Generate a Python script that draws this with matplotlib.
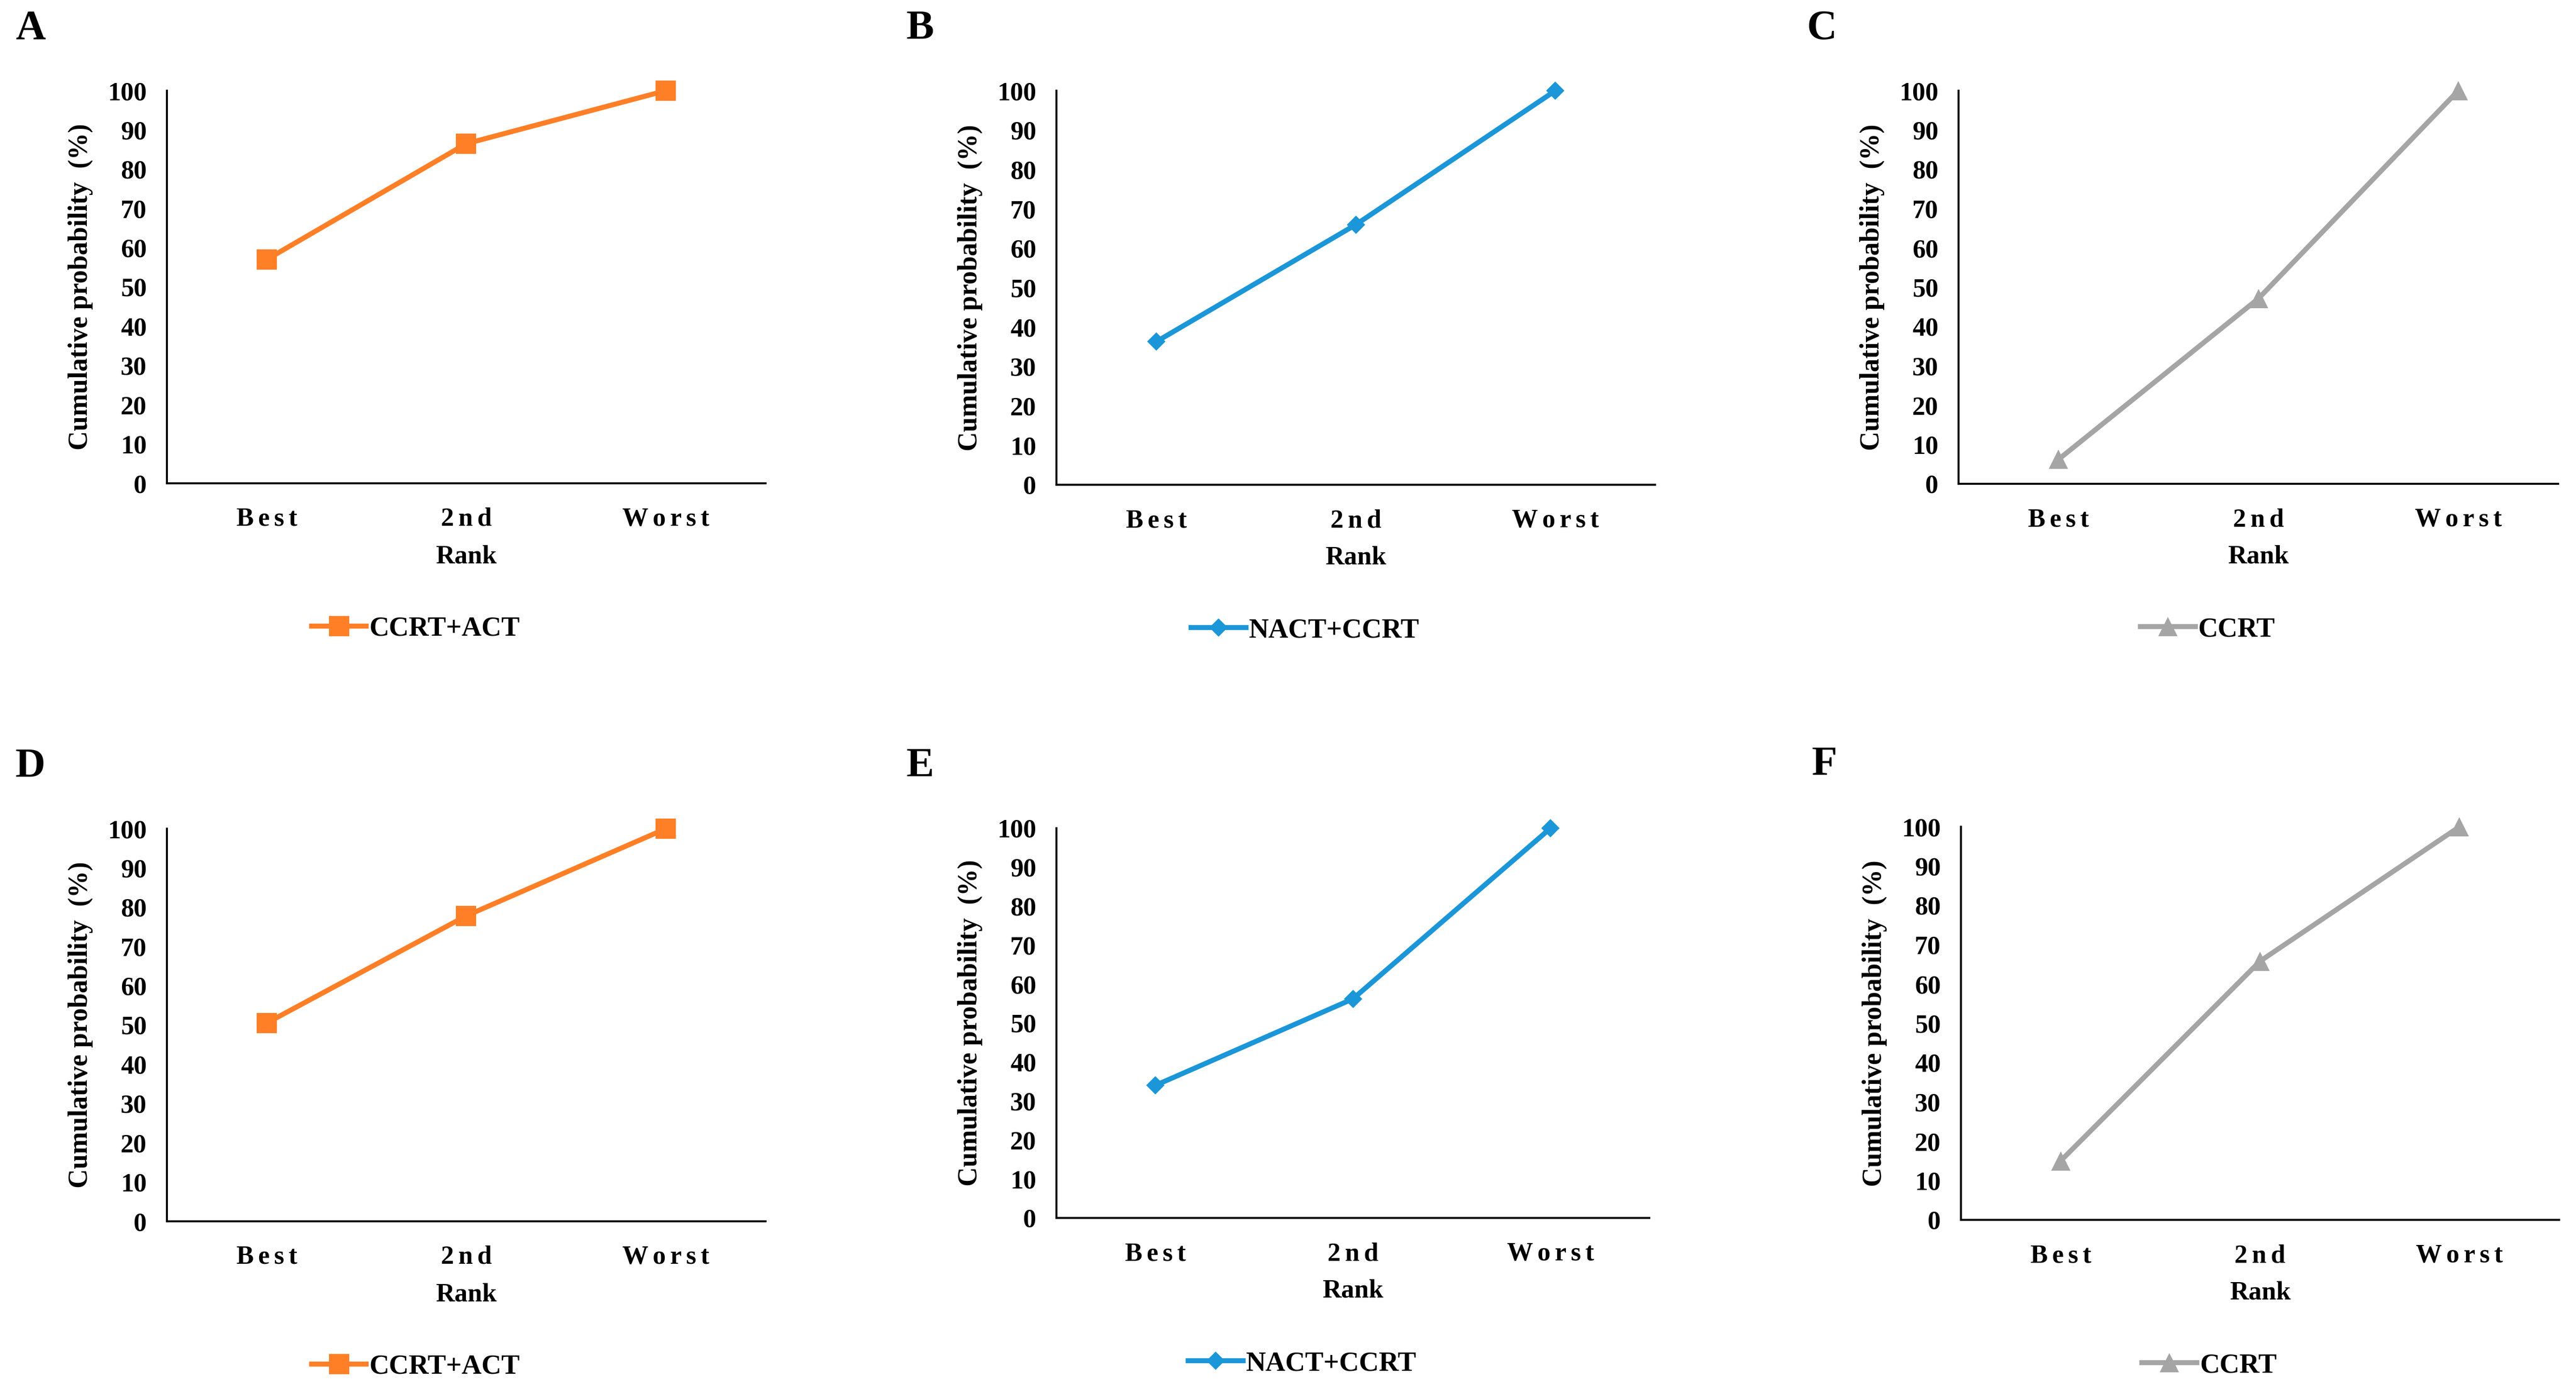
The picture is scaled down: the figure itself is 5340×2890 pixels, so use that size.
import matplotlib
matplotlib.use('Agg')
import matplotlib.pyplot as plt

plt.rcParams['font.family'] = ['Liberation Serif', 'DejaVu Serif']
plt.rcParams['font.weight'] = 'bold'

# rank categories (x axis)
ranks = ['Best', '2nd', 'Worst']

# cumulative probabilities (%)
panel_a = [57.0, 86.5, 100.0]
panel_b = [36.3, 66.0, 100.0]
panel_c = [6.2, 47.1, 100.0]
panel_d = [50.5, 77.8, 100.0]
panel_e = [34.0, 56.2, 100.0]
panel_f = [15.0, 65.8, 100.0]

letters = ['A', 'B', 'C', 'D', 'E', 'F']
treatments = ['CCRT+ACT', 'NACT+CCRT', 'CCRT', 'CCRT+ACT', 'NACT+CCRT', 'CCRT']
yticks = list(range(0, 101, 10))

W, H = 5340, 2890
fig = plt.figure(figsize=(W / 100, H / 100), dpi=100)

# left, right, top, bottom of each plot area in pixels
boxes = [
    (346, 1587, 188, 1002),
    (2190, 3431, 188, 1005),
    (4060, 5303, 188, 1003),
    (346, 1587, 1718, 2532),
    (2190, 3419, 1717, 2525),
    (4065, 5305, 1714, 2529),
]
styles = [
    dict(color='#FF7F27', marker='s', markersize=30),
    dict(color='#1B96D8', marker='D', markersize=19),
    dict(color='#A5A5A5', marker='^', markersize=29),
]
series = [panel_a, panel_b, panel_c, panel_d, panel_e, panel_f]

gap = '\u2006'   # small space to mimic the spaced-out category labels

for i, (vals, box) in enumerate(zip(series, boxes)):
    l, r, t, b = box
    ax = fig.add_axes([l / W, 1 - b / H, (r - l) / W, (b - t) / H])
    st = styles[i % 3]
    xs = list(range(len(ranks)))
    ax.plot(xs, vals, color=st['color'], lw=7.5, marker=st['marker'],
            markersize=st['markersize'], markeredgewidth=0,
            label=treatments[i], clip_on=False)

    ax.set_xlim(-0.5, len(ranks) - 0.5)
    ax.set_ylim(0, 100)
    ax.set_yticks(yticks)
    ax.set_xticks(xs)
    ax.set_xticklabels([gap.join(list(s)) for s in ranks])
    ax.tick_params(axis='both', length=0, labelsize=39)
    ax.tick_params(axis='x', pad=36)
    ax.tick_params(axis='y', pad=30)
    for lab in ax.get_xticklabels() + ax.get_yticklabels():
        lab.set_fontweight('bold')

    for s in ['top', 'right']:
        ax.spines[s].set_visible(False)
    for s in ['left', 'bottom']:
        ax.spines[s].set_linewidth(3)
        ax.spines[s].set_color('black')

    hpx = b - t
    wpx = r - l
    ax.set_xlabel('Rank', fontsize=39, fontweight='bold')
    ax.xaxis.set_label_coords(0.5, -152 / hpx)
    ax.xaxis.label.set_va('center')
    ax.set_ylabel('Cumulative probability  (%)', fontsize=40, fontweight='bold')
    ax.yaxis.set_label_coords(-179 / wpx, 0.5)
    ax.yaxis.label.set_va('center')

    ax.legend(loc='center', bbox_to_anchor=(0.5 - 105 / wpx, -302 / hpx),
              frameon=False, handlelength=2.0, handletextpad=0.1,
              prop={'weight': 'bold', 'size': 41})

    fig.text((l - 283) / W, 1 - (t - 128) / H, letters[i], fontsize=62,
             fontweight='bold', ha='center', va='center')

fig.savefig('out.png', dpi=100, facecolor='white')
